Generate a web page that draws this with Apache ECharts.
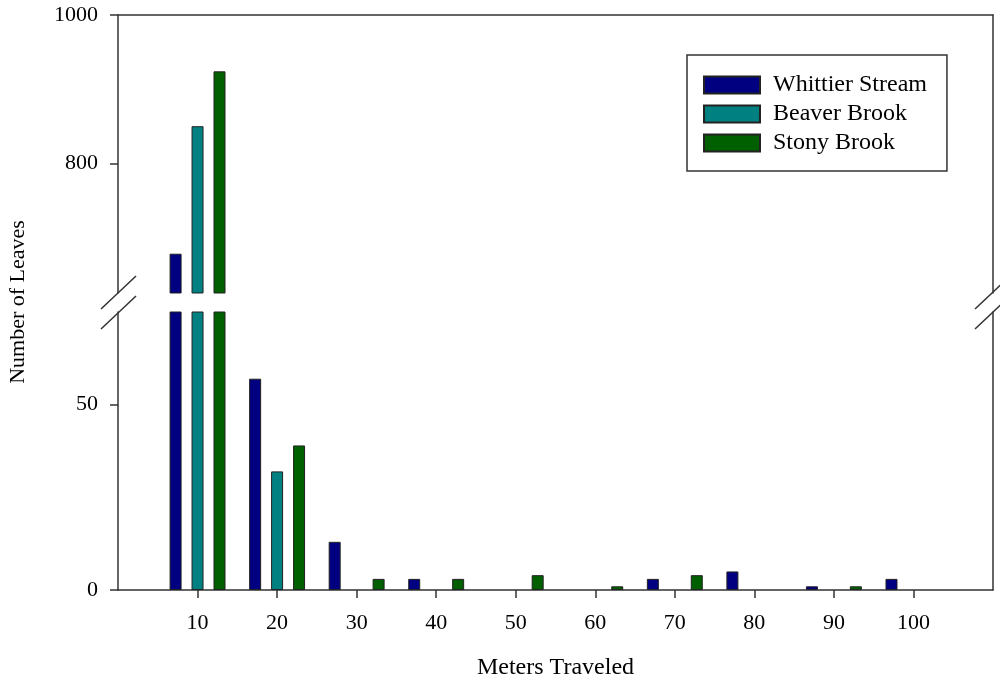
<!DOCTYPE html>
<html>
<head>
<meta charset="utf-8">
<script src="https://cdn.jsdelivr.net/npm/echarts@6/dist/echarts.min.js"></script>
<style>html,body{margin:0;padding:0;background:#fff}#c{width:1000px;height:682px}</style>
</head>
<body>
<div id="c"></div>
<script>
// ---- data ----
var meters = [10, 20, 30, 40, 50, 60, 70, 80, 90, 100];
var whittier = [678, 57, 13, 3, null, null, 3, 5, 1, 3];
var beaver   = [850, 32, null, null, null, null, null, null, null, null];
var stony    = [924, 39, 3, 3, 4, 1, 4, null, 1, null];
var seriesNames = ['Whittier Stream', 'Beaver Brook', 'Stony Brook'];
var lowerTicks = [0, 50];
var upperTicks = [800, 1000];
var lowerRange = [0, 75];
var upperRange = [625, 1000];
var xRange = [0, 110];

var colors = ['#000080', '#008080', '#006000'];
var FONT = 'Liberation Serif';
var AXC = '#333';

function pairs(vals, lo) {
  return meters.map(function (m, i) {
    var v = vals[i];
    if (v == null || (lo != null && v < lo)) return [m, null];
    return [m, v];
  });
}

var chart = echarts.init(document.getElementById('c'), null, {renderer: 'canvas'});

var allVals = [whittier, beaver, stony];
var series = [];
[0, 1].forEach(function (g) {
  allVals.forEach(function (vals, k) {
    series.push({
      type: 'bar',
      name: seriesNames[k],
      xAxisIndex: g,
      yAxisIndex: g * 2,
      data: pairs(vals, g === 0 ? upperRange[0] : null),
      barWidth: 12,
      barGap: '83%',
      clip: true,
      itemStyle: {color: colors[k], borderColor: '#222', borderWidth: 1},
      emphasis: {disabled: true},
      animation: false
    });
  });
});

function xAxisBase(g) {
  return {
    type: 'value', gridIndex: g, min: xRange[0], max: xRange[1],
    splitLine: {show: false},
    axisLine: {show: true, onZero: false, lineStyle: {color: AXC, width: 1.5}}
  };
}
function plain(v) { return String(v); }

var option = {
  backgroundColor: '#fff',
  animation: false,
  grid: [
    {left: 118, right: 7, top: 15, height: 278, containLabel: false},
    {left: 118, right: 7, top: 312, height: 278, containLabel: false}
  ],
  xAxis: [
    Object.assign(xAxisBase(0), {
      position: 'top',
      axisTick: {show: false},
      axisLabel: {show: false}
    }),
    Object.assign(xAxisBase(1), {
      position: 'bottom',
      axisTick: {show: true, inside: false, length: 8, customValues: meters,
                 lineStyle: {color: AXC, width: 1.5}},
      axisLabel: {show: true, customValues: meters, margin: 22, formatter: plain,
                  fontFamily: FONT, fontSize: 22, color: '#000'},
      name: 'Meters Traveled', nameLocation: 'middle', nameGap: 66,
      nameTextStyle: {fontFamily: FONT, fontSize: 24, color: '#000'}
    })
  ],
  yAxis: [
    {
      type: 'value', gridIndex: 0, position: 'left', min: upperRange[0], max: upperRange[1],
      splitLine: {show: false},
      axisLine: {show: true, onZero: false, lineStyle: {color: AXC, width: 1.5}},
      axisTick: {show: true, length: 8, customValues: upperTicks, lineStyle: {color: AXC, width: 1.5}},
      axisLabel: {show: true, customValues: upperTicks, margin: 20, formatter: plain,
                  fontFamily: FONT, fontSize: 22, color: '#000'}
    },
    {
      type: 'value', gridIndex: 0, position: 'right', min: upperRange[0], max: upperRange[1],
      splitLine: {show: false},
      axisLine: {show: true, onZero: false, lineStyle: {color: AXC, width: 1.5}},
      axisTick: {show: false}, axisLabel: {show: false}
    },
    {
      type: 'value', gridIndex: 1, position: 'left', min: lowerRange[0], max: lowerRange[1],
      splitLine: {show: false},
      axisLine: {show: true, onZero: false, lineStyle: {color: AXC, width: 1.5}},
      axisTick: {show: true, length: 8, customValues: lowerTicks, lineStyle: {color: AXC, width: 1.5}},
      axisLabel: {show: true, customValues: lowerTicks, margin: 20, formatter: plain,
                  fontFamily: FONT, fontSize: 22, color: '#000'}
    },
    {
      type: 'value', gridIndex: 1, position: 'right', min: lowerRange[0], max: lowerRange[1],
      splitLine: {show: false},
      axisLine: {show: true, onZero: false, lineStyle: {color: AXC, width: 1.5}},
      axisTick: {show: false}, axisLabel: {show: false}
    }
  ],
  legend: {
    data: seriesNames,
    orient: 'vertical',
    left: 687, top: 55,
    itemWidth: 56, itemHeight: 17, itemGap: 5,
    icon: 'rect',
    padding: [18, 20, 16, 16],
    borderColor: '#333', borderWidth: 1.5,
    backgroundColor: '#fff',
    selectedMode: false,
    textStyle: {fontFamily: FONT, fontSize: 24, color: '#000', padding: [0, 0, 0, 8]}
  },
  graphic: [
    // axis break marks (left)
    {type: 'line', shape: {x1: 101, y1: 309, x2: 136, y2: 276}, style: {stroke: AXC, lineWidth: 1.5}},
    {type: 'line', shape: {x1: 101, y1: 329, x2: 136, y2: 296}, style: {stroke: AXC, lineWidth: 1.5}},
    // axis break marks (right)
    {type: 'line', shape: {x1: 975, y1: 309, x2: 1010, y2: 276}, style: {stroke: AXC, lineWidth: 1.5}},
    {type: 'line', shape: {x1: 975, y1: 329, x2: 1010, y2: 296}, style: {stroke: AXC, lineWidth: 1.5}},
    // y-axis title spanning both panels
    {type: 'text', x: 18, y: 302, rotation: Math.PI / 2,
     style: {text: 'Number of Leaves', font: '22px "Liberation Serif"', fill: '#000',
             align: 'center', verticalAlign: 'middle'}}
  ],
  series: series
};
chart.setOption(option);
</script>
</body>
</html>
